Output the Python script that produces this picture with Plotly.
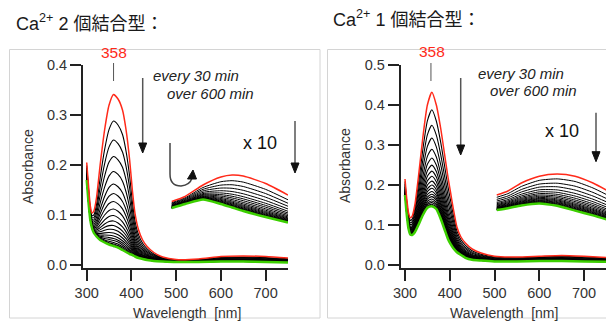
import plotly.graph_objects as go

# page body has an 8px margin; the figure is sized to fill the rest of the 614x322 window
OFF = 8
W, H = 614 - OFF, 322 - OFF

# ---------------- data ----------------
wavelength = [300, 304, 308, 312, 316, 322, 330, 340, 350, 360, 370, 380, 388, 396,
              402, 408, 416, 425, 435, 450, 470, 500, 550, 600, 650, 700, 750]

# Ca2+ 2-bound: first (red) and last (green) spectra
left_first = [0.205, 0.160, 0.118, 0.104, 0.108, 0.135, 0.200, 0.270, 0.320, 0.341, 0.332, 0.310, 0.270, 0.210,
              0.150, 0.103, 0.070, 0.050, 0.037, 0.025, 0.016, 0.011, 0.012, 0.017, 0.018, 0.017, 0.014]
left_last = [0.170, 0.125, 0.090, 0.073, 0.064, 0.057, 0.050, 0.045, 0.041, 0.038, 0.035, 0.030, 0.026, 0.022,
             0.020, 0.017, 0.014, 0.012, 0.010, 0.008, 0.007, 0.006, 0.006, 0.007, 0.007, 0.006, 0.005]
# absorbance at 358 nm of each scan (every 30 min, 0-600 min)
left_peaks = [0.341, 0.288, 0.250, 0.217, 0.187, 0.162, 0.143, 0.127, 0.112, 0.099, 0.088,
              0.079, 0.071, 0.064, 0.058, 0.053, 0.049, 0.045, 0.042, 0.040, 0.038]
# x10 expanded visible region (offset)
left_inset_wl = [490, 520, 560, 600, 625, 650, 700, 750]
left_inset_first = [0.127, 0.137, 0.160, 0.176, 0.180, 0.178, 0.163, 0.140]
left_inset_last = [0.114, 0.122, 0.131, 0.122, 0.115, 0.108, 0.096, 0.085]

# Ca2+ 1-bound
right_first = [0.215, 0.165, 0.130, 0.118, 0.122, 0.150, 0.220, 0.320, 0.400, 0.432, 0.400, 0.340, 0.280, 0.220,
               0.180, 0.140, 0.095, 0.070, 0.055, 0.040, 0.030, 0.022, 0.020, 0.022, 0.024, 0.022, 0.019]
right_last = [0.175, 0.125, 0.090, 0.076, 0.075, 0.082, 0.100, 0.125, 0.143, 0.147, 0.140, 0.115, 0.090, 0.065,
              0.052, 0.042, 0.032, 0.025, 0.018, 0.013, 0.011, 0.009, 0.009, 0.010, 0.010, 0.009, 0.008]
right_peaks = [0.433, 0.389, 0.350, 0.318, 0.290, 0.268, 0.250, 0.235, 0.222, 0.210, 0.200,
               0.192, 0.184, 0.177, 0.171, 0.165, 0.160, 0.156, 0.152, 0.149, 0.147]
right_inset_wl = [505, 530, 560, 600, 640, 680, 720, 750]
right_inset_first = [0.175, 0.185, 0.205, 0.222, 0.2275, 0.222, 0.205, 0.1875]
right_inset_last = [0.1375, 0.142, 0.149, 0.154, 0.148, 0.136, 0.124, 0.114]

x_ticks = [300, 400, 500, 600, 700]
left_y_ticks = [0.0, 0.1, 0.2, 0.3, 0.4]
right_y_ticks = [0.0, 0.1, 0.2, 0.3, 0.4, 0.5]

RED = "#ff2a1a"
GREEN = "#3ccf00"


def px(x):
    return (x - OFF) / W


def py(y):
    return 1 - (y - OFF) / H


fig = go.Figure()


def add_panel(xa, ya, first, last, peaks, iwl, ifirst, ilast):
    p0, pn = peaks[0], peaks[-1]
    fracs = [(p - pn) / (p0 - pn) for p in peaks]
    for f in fracs[1:-1]:
        yy = [g + f * (r - g) for r, g in zip(first, last)]
        fig.add_trace(go.Scatter(x=wavelength, y=yy, mode="lines", xaxis=xa, yaxis=ya,
                                 line=dict(color="black", width=1.1, shape="spline", smoothing=0.6),
                                 showlegend=False, hoverinfo="skip"))
        yi = [g + f * (r - g) for r, g in zip(ifirst, ilast)]
        fig.add_trace(go.Scatter(x=iwl, y=yi, mode="lines", xaxis=xa, yaxis=ya,
                                 line=dict(color="black", width=1, shape="spline", smoothing=0.6),
                                 showlegend=False, hoverinfo="skip"))
    for xs, ys, c, w in [(wavelength, last, GREEN, 2.5), (iwl, ilast, GREEN, 2.5),
                         (wavelength, first, RED, 1.5), (iwl, ifirst, RED, 1.5)]:
        fig.add_trace(go.Scatter(x=xs, y=ys, mode="lines", xaxis=xa, yaxis=ya,
                                 line=dict(color=c, width=w, shape="spline", smoothing=0.6),
                                 showlegend=False, hoverinfo="skip"))


add_panel("x", "y", left_first, left_last, left_peaks, left_inset_wl, left_inset_first, left_inset_last)
add_panel("x2", "y2", right_first, right_last, right_peaks, right_inset_wl, right_inset_first, right_inset_last)

axis_common = dict(showline=True, linecolor="#222", linewidth=2, ticks="outside", ticklen=11,
                   tickwidth=2, tickcolor="#222", showgrid=False, zeroline=False, automargin=False,
                   tickfont=dict(family="Liberation Sans, Arial, sans-serif", size=14.5, color="#333"))

ydom = [py(267.5), py(65)]
fig.update_layout(
    width=W, height=H, autosize=False,
    margin=dict(l=0, r=0, t=0, b=0, pad=0, autoexpand=False),
    paper_bgcolor="white", plot_bgcolor="white",
    xaxis=dict(domain=[px(83), px(288)], anchor="y", range=[291.7, 750], tickvals=x_ticks, **axis_common),
    yaxis=dict(domain=ydom, anchor="x", range=[-0.005, 0.4], tickvals=left_y_ticks, tickformat=".1f", **axis_common),
    xaxis2=dict(domain=[px(400.7), px(606.7)], anchor="y2", range=[290.4, 750.7], tickvals=x_ticks, **axis_common),
    yaxis2=dict(domain=ydom, anchor="x2", range=[-0.00625, 0.5], tickvals=right_y_ticks, tickformat=".1f", **axis_common),
)

shapes = []
# panel frames
shapes.append(dict(type="rect", xref="paper", yref="paper", x0=px(9.5), x1=px(320), y0=py(318), y1=py(49.5),
                   line=dict(color="#d4d4d4", width=1)))
shapes.append(dict(type="rect", xref="paper", yref="paper", x0=px(327.5), x1=px(616), y0=py(318), y1=py(49.5),
                   line=dict(color="#d4d4d4", width=1)))
# peak marker lines
shapes.append(dict(type="line", xref="x", yref="paper", x0=360, x1=360, y0=py(63), y1=py(81),
                   line=dict(color="#555", width=1)))
shapes.append(dict(type="line", xref="x2", yref="paper", x0=358, x1=358, y0=py(63), y1=py(81),
                   line=dict(color="#555", width=1)))
# curved arrow (left panel)
path = (f"M {px(170)},{py(143)} L {px(170)},{py(174)} "
        f"Q {px(170)},{py(186)} {px(181)},{py(186)} Q {px(190)},{py(185)} {px(192)},{py(178)}")
shapes.append(dict(type="path", xref="paper", yref="paper", path=path, line=dict(color="#444", width=1.5)))
tri = f"M {px(187.5)},{py(179)} L {px(196.5)},{py(179)} L {px(193)},{py(170)} Z"
shapes.append(dict(type="path", xref="paper", yref="paper", path=tri, fillcolor="#111", line=dict(color="#111", width=1)))


def arrow(x, y0, y1):
    # straight downward arrow: grey shaft + black filled head
    shapes.append(dict(type="line", xref="paper", yref="paper", x0=px(x), x1=px(x), y0=py(y0), y1=py(y1 - 6),
                       line=dict(color="#555", width=1.5)))
    head = f"M {px(x - 4)},{py(y1 - 10)} L {px(x + 4)},{py(y1 - 10)} L {px(x)},{py(y1)} Z"
    shapes.append(dict(type="path", xref="paper", yref="paper", path=head, fillcolor="#111",
                       line=dict(color="#111", width=1)))


arrow(142.7, 78, 153)
arrow(295, 121, 173)
arrow(460.7, 78, 155)
arrow(596, 112.7, 161.7)
fig.update_layout(shapes=shapes)

FONT = "Liberation Sans, Arial, sans-serif"
ann = []


def text(x, y, s, size, color="#222", **kw):
    ann.append(dict(x=px(x), y=py(y), xref="paper", yref="paper", text=s, showarrow=False,
                    xanchor="center", yanchor="middle",
                    font=dict(family=FONT, size=size, color=color), **kw))


TFONT = "Liberation Sans, Noto Sans CJK JP, sans-serif"
ann.append(dict(x=px(14), y=py(22.5), xref="paper", yref="paper", xanchor="left", yanchor="middle", showarrow=False,
                text="Ca<sup>2+</sup> 2 個結合型：", font=dict(family=TFONT, size=18, color="#1a1a1a")))
ann.append(dict(x=px(331), y=py(19), xref="paper", yref="paper", xanchor="left", yanchor="middle", showarrow=False,
                text="Ca<sup>2+</sup> 1 個結合型：", font=dict(family=TFONT, size=18, color="#1a1a1a")))

# left panel texts
text(114, 53, "358", 15.5, RED)
text(195.5, 75, "<i>every 30 min</i>", 15)
text(210, 93, "<i>over 600 min</i>", 15)
text(259.5, 143, "x 10", 18, "#111")
text(187, 313, "Wavelength  [nm]", 14, "#333")
text(28, 166, "Absorbance", 14, "#333", textangle=-90)

# right panel texts
text(431.7, 52, "358", 15.5, RED)
text(520.5, 73.3, "<i>every 30 min</i>", 15)
text(533, 90.7, "<i>over 600 min</i>", 15)
text(561.5, 131, "x 10", 18, "#111")
text(503.7, 313, "Wavelength  [nm]", 14, "#333")
text(345, 166, "Absorbance", 14, "#333", textangle=-90)

fig.update_layout(annotations=ann)
fig.write_html("out.html")
